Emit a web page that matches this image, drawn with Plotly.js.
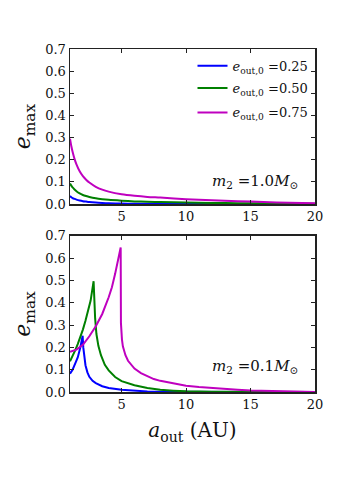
<!DOCTYPE html>
<html>
<head>
<meta charset="utf-8">
<script src="https://cdn.plot.ly/plotly-3.0.1.min.js"></script>
<style>html,body{margin:0;padding:0;background:#fff;}#chart{width:350px;height:490px;}</style>
</head>
<body>
<div id="chart"></div>
<script>
// ---- Data ----
const seriesLabels = ["<i>e</i><sub>out,0</sub> =0.25", "<i>e</i><sub>out,0</sub> =0.50", "<i>e</i><sub>out,0</sub> =0.75"];
const seriesColors = ["#0000ff", "#008000", "#bf00bf"];

// Top panel: m2 = 1.0 Msun
const aTop = [1, 1.1, 1.2, 1.35, 1.5, 1.75, 2, 2.25, 2.5, 3, 3.5, 4, 5, 6, 7, 8, 10, 12, 14, 16, 18, 20];
const eTop025 = [0.036, 0.031, 0.027, 0.023, 0.020, 0.016, 0.013, 0.011, 0.009, 0.0065, 0.0048, 0.0035, 0.0022, 0.0015, 0.001, 0.0008, 0.0005, 0.0003, 0.0002, 0.0001, 0.0001, 0];
const eTop050 = [0.093, 0.083, 0.075, 0.066, 0.058, 0.048, 0.041, 0.036, 0.032, 0.026, 0.022, 0.019, 0.015, 0.012, 0.010, 0.009, 0.007, 0.005, 0.004, 0.003, 0.002, 0.001];
const eTop075 = [0.295, 0.262, 0.236, 0.204, 0.179, 0.148, 0.126, 0.110, 0.097, 0.078, 0.065, 0.056, 0.044, 0.037, 0.032, 0.029, 0.022, 0.017, 0.013, 0.009, 0.006, 0.003];

// Bottom panel: m2 = 0.1 Msun
const aBot025 = [1, 1.2, 1.4, 1.6, 1.8, 1.98, 2.03, 2.1, 2.2, 2.35, 2.5, 2.75, 3, 3.5, 4, 5, 6, 7, 8, 10, 15, 20];
const eBot025 = [0.082, 0.100, 0.127, 0.155, 0.200, 0.252, 0.200, 0.160, 0.120, 0.088, 0.068, 0.050, 0.040, 0.026, 0.018, 0.010, 0.005, 0.0025, 0.0012, 0.0003, 0, 0];
const aBot050 = [1, 1.2, 1.4, 1.6, 1.8, 2, 2.2, 2.4, 2.6, 2.83, 2.88, 2.95, 3.05, 3.2, 3.4, 3.7, 4, 4.5, 5, 5.5, 6, 7, 8, 9, 10, 12, 15, 20];
const eBot050 = [0.138, 0.160, 0.187, 0.215, 0.245, 0.280, 0.320, 0.360, 0.410, 0.497, 0.400, 0.330, 0.260, 0.207, 0.165, 0.122, 0.097, 0.067, 0.049, 0.038, 0.030, 0.018, 0.010, 0.006, 0.003, 0.001, 0, 0];
const aBot075 = [1, 1.5, 2, 2.5, 3, 3.5, 4, 4.25, 4.5, 4.7, 4.93, 4.95, 4.98, 5.03, 5.1, 5.2, 5.3, 5.5, 5.75, 6, 6.5, 7, 7.5, 8, 9, 10, 11, 12.5, 14, 15, 17, 20];
const eBot075 = [0.180, 0.190, 0.212, 0.250, 0.295, 0.350, 0.425, 0.470, 0.530, 0.580, 0.648, 0.310, 0.270, 0.235, 0.205, 0.182, 0.165, 0.140, 0.120, 0.105, 0.085, 0.070, 0.058, 0.050, 0.040, 0.028, 0.022, 0.015, 0.010, 0.007, 0.003, 0];

const xTickVals = [5, 10, 15, 20];
const yTickVals = [0, 0.1, 0.2, 0.3, 0.4, 0.5, 0.6, 0.7];
const panelLabels = ["<i>m</i><sub>2</sub> =1.0<i>M</i><sub>⊙</sub>", "<i>m</i><sub>2</sub> =0.1<i>M</i><sub>⊙</sub>"];

// ---- Build ----
const FONT = "DejaVu Serif, serif";
const topY = [eTop025, eTop050, eTop075];
const botX = [aBot025, aBot050, aBot075];
const botY = [eBot025, eBot050, eBot075];
const legendIds = ["legend", "legend2", "legend3"];
const legendY = [0.951, 0.886, 0.815];
const traces = [];
for (let i = 0; i < 3; i++) {
  traces.push({x: aTop, y: topY[i], xaxis: "x", yaxis: "y", mode: "lines", name: seriesLabels[i],
    legend: legendIds[i],
    line: {color: seriesColors[i], width: 2, shape: "spline", smoothing: 0.8}, showlegend: true});
}
for (let i = 0; i < 3; i++) {
  traces.push({x: botX[i], y: botY[i], xaxis: "x2", yaxis: "y2", mode: "lines", name: seriesLabels[i],
    line: {color: seriesColors[i], width: 2}, showlegend: false});
}

const axisCommon = {
  showline: true, linecolor: "#222", linewidth: 1.5, mirror: "ticks",
  ticks: "inside", ticklen: 4, tickwidth: 1, tickcolor: "#222",
  showgrid: false, zeroline: false,
  tickfont: {family: FONT, size: 13, color: "#111"}
};
const xAx = Object.assign({}, axisCommon, {range: [1, 20], tickvals: xTickVals, ticktext: xTickVals.map(String)});
const yAx = Object.assign({}, axisCommon, {range: [0, 0.7], tickvals: yTickVals, ticktext: yTickVals.map(v => v.toFixed(1))});

function legendAt(y) {
  return {x: 0.5, y: y, xanchor: "left", yanchor: "middle", bgcolor: "rgba(0,0,0,0)", borderwidth: 0,
    font: {family: FONT, size: 13, color: "#111"}, itemwidth: 30};
}

const layout = {
  width: 350, height: 490,
  margin: {l: 70, r: 35, t: 49, b: 98},
  paper_bgcolor: "#fff", plot_bgcolor: "#fff",
  showlegend: true,
  legend: legendAt(legendY[0]),
  legend2: legendAt(legendY[1]),
  legend3: legendAt(legendY[2]),
  xaxis: Object.assign({}, xAx, {domain: [0, 1], anchor: "y"}),
  yaxis: Object.assign({}, yAx, {domain: [0.548, 1], anchor: "x",
    title: {text: "<i>e</i><sub>max</sub>", font: {family: FONT, size: 22, color: "#111"}, standoff: 8}}),
  xaxis2: Object.assign({}, xAx, {domain: [0, 1], anchor: "y2",
    title: {text: "<i>a</i><sub>out</sub> (AU)", font: {family: FONT, size: 20, color: "#111"}, standoff: 12}}),
  yaxis2: Object.assign({}, yAx, {domain: [0, 0.455], anchor: "x2",
    title: {text: "<i>e</i><sub>max</sub>", font: {family: FONT, size: 22, color: "#111"}, standoff: 8}}),
  annotations: [
    {xref: "paper", yref: "paper", x: 0.94, y: 0.615, xanchor: "right", yanchor: "middle", showarrow: false,
      text: panelLabels[0], font: {family: FONT, size: 15, color: "#111"}},
    {xref: "paper", yref: "paper", x: 0.94, y: 0.073, xanchor: "right", yanchor: "middle", showarrow: false,
      text: panelLabels[1], font: {family: FONT, size: 15, color: "#111"}}
  ]
};

Plotly.newPlot("chart", traces, layout, {displayModeBar: false, staticPlot: true});
</script>
</body>
</html>
